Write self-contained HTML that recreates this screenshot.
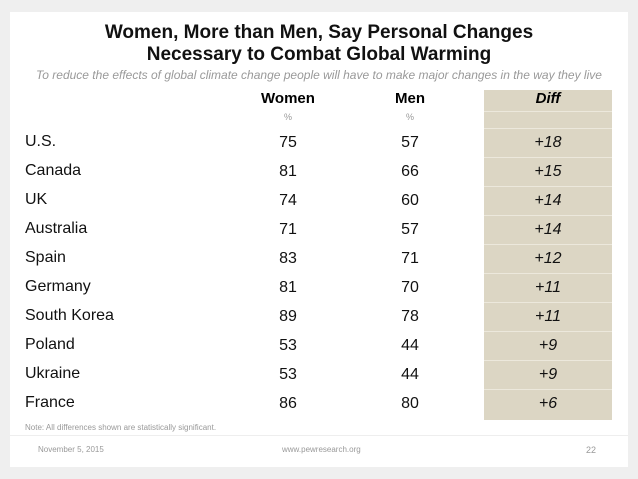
<!DOCTYPE html>
<html><head><meta charset="utf-8"><style>
body{margin:0;width:638px;height:479px;background:#efefef;font-family:"Liberation Sans",sans-serif;position:relative;overflow:hidden}
.card{position:absolute;left:10px;top:12px;width:618px;height:455px;background:#fff}
.t{position:absolute;left:0;width:638px;text-align:center;font-family:"Liberation Sans Narrow","Liberation Sans",sans-serif;font-weight:bold;font-size:19px;color:#111}
.sub{position:absolute;left:0;width:638px;text-align:center;top:68px;font-style:italic;font-size:12px;color:#999;font-family:"Liberation Sans Narrow","Liberation Sans",sans-serif}
.diffbg{position:absolute;left:484px;top:90px;width:128px;height:330px;background:#dcd6c4}
.sep{position:absolute;left:484px;width:128px;height:1px;background:#ece8dc}
.h{position:absolute;font-family:"Liberation Sans Narrow","Liberation Sans",sans-serif;font-weight:bold;font-size:15px;width:100px;text-align:center;top:90px}
.pct{position:absolute;font-size:9px;color:#999;width:100px;text-align:center;top:112px}
.c{position:absolute;left:25px;font-size:16px;color:#111}
.n{position:absolute;font-size:16px;color:#111;width:100px;text-align:center}
.d{font-style:italic}
.note{position:absolute;left:25px;top:423px;font-size:8px;color:#999}
.fl{position:absolute;left:10px;top:435px;width:618px;height:1px;background:#eee}
.f{position:absolute;top:445px;font-size:8px;color:#999}
</style></head><body>
<div class="card"></div>
<div class="t" style="top:22px">Women, More than Men, Say Personal Changes</div>
<div class="t" style="top:44px">Necessary to Combat Global Warming</div>
<div class="sub">To reduce the effects of global climate change people will have to make major changes in the way they live</div>
<div class="diffbg"></div>
<div class="h" style="left:238px">Women</div>
<div class="h" style="left:360px">Men</div>
<div class="h" style="left:498px;font-style:italic">Diff</div>
<div class="pct" style="left:238px">%</div>
<div class="pct" style="left:360px">%</div>
<div id="rows"></div>
<div class="note">Note: All differences shown are statistically significant.</div>
<div class="fl"></div>
<div class="f" style="left:38px">November 5, 2015</div>
<div class="f" style="left:282px">www.pewresearch.org</div>
<div class="f" style="left:586px;font-size:9px">22</div>
<script>
const countries=["U.S.","Canada","UK","Australia","Spain","Germany","South Korea","Poland","Ukraine","France"];
const women=[75,81,74,71,83,81,89,53,53,86];
const men=[57,66,60,57,71,70,78,44,44,80];
const root=document.getElementById('rows');
function add(cls,txt,style){const e=document.createElement('div');e.className=cls;e.textContent=txt;e.style.cssText=style;root.appendChild(e);return e;}
[111,128].forEach(y=>{const s=add('sep','','top:'+y+'px');

});
countries.forEach((c,i)=>{
 const y=133+i*29;
 const a=add('c',c,'top:'+y+'px');
 
 
 const w=add('n',String(women[i]),'left:238px;top:'+(y+1)+'px');
 
 
 const m=add('n',String(men[i]),'left:360px;top:'+(y+1)+'px');
 
 
 const diff=women[i]-men[i];
 const d=add('n d','+'+diff,'left:498px;top:'+(y+1)+'px');
 
 
 if(i<countries.length-1){const s=add('sep','','top:'+(y+24)+'px');
 
 }
});
</script>
</body></html>
